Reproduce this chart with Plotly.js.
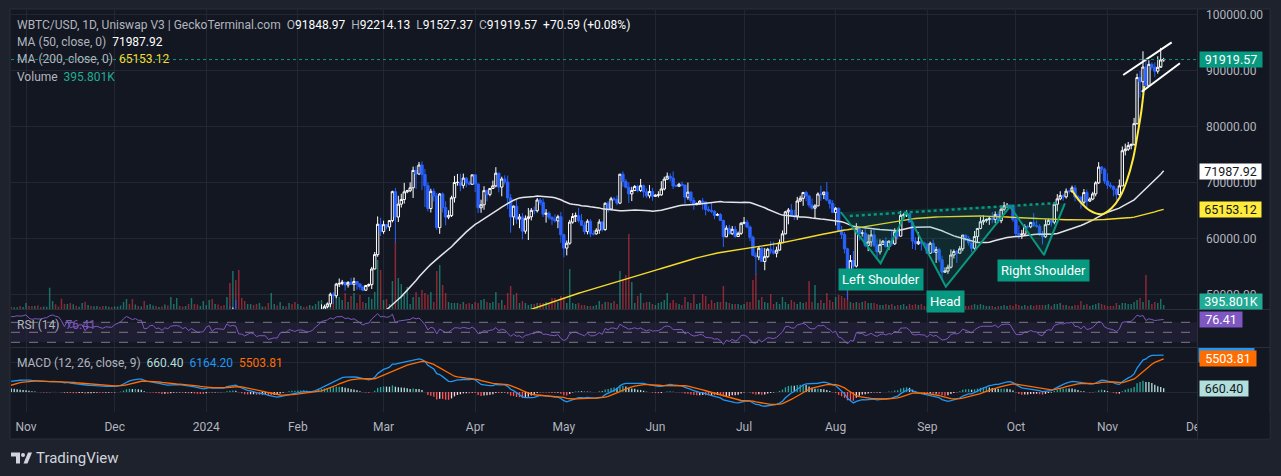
<!DOCTYPE html>
<html><head><meta charset="utf-8">
<script src="https://cdn.plot.ly/plotly-3.0.1.min.js"></script>
<style>html,body{margin:0;padding:0;background:#1e222d;overflow:hidden}#chart{width:1281px;height:476px}</style>
</head><body><div id="chart"></div>
<script>
// ---------------- DATA ----------------
const startDate = '2023-09-15';
const closes = [
26608,26568,26534,26754,27211,27132,26567,26579,26580,26256,26298,26217,26352,27021,26911,26967,
27983,27531,27429,27799,27415,27946,27968,27936,27583,27392,26874,26756,26862,26861,27159,28519,28415,28329,28720,29683,29918,29993,33087,33901,34502,34156,33909,34090,34538,34502,34667,
35438,34938,34732,35082,35050,35038,35444,35655,36693,37313,37138,37054,36502,35537,37880,36154,36596,36585,37386,37476,35813,37432,37289,37721,37796,37479,37254,37832,37858,37713,
38688,39476,39978,41980,44080,43746,43292,44167,43726,43779,41243,41450,42890,43023,41929,42240,41365,42623,42271,43652,43869,43997,43740,43017,43614,42520,43442,42627,42100,42156,42265,
44168,44958,42848,44180,44162,43990,43943,46970,46140,46627,46368,42853,42842,41797,42512,43154,42742,41262,41618,41665,41545,39507,39845,40077,39934,41817,42120,42036,43300,42946,42582,
43076,43185,42992,42584,42659,43085,44319,45302,47148,47772,48293,50004,49734,51826,51939,52161,51663,52123,51780,52285,51839,51305,50732,51572,51733,54522,57085,62504,61198,
62440,62029,63167,68330,63801,66106,66925,68300,68498,69019,72124,71482,73083,71397,69403,65316,68391,67548,61912,67914,65491,63779,64062,67234,69958,69987,69455,70744,69892,69645,71334,
69702,65446,65981,68509,67838,68896,69362,71631,69140,70587,70060,67195,63821,65738,63427,63811,61276,63512,63843,64994,64927,66837,66408,64276,64482,63756,63419,63114,63842,60636,
58254,59123,62889,63892,64031,63162,62334,61187,63049,60793,60793,61448,62901,61553,66267,65231,67051,66940,66278,71448,70136,69122,67929,68526,69265,68518,69394,68296,67578,68364,67491,
67706,67751,68804,70567,71082,70757,69342,69305,69647,69512,67332,68241,66756,66012,66191,66639,66490,65140,64960,64828,64096,64253,63180,60277,61804,60811,61604,60320,60887,62678,
62851,62029,60173,56977,56663,58230,55857,56714,58052,57725,57339,57889,59204,60797,64724,65043,64088,63988,66660,67139,68166,67532,65936,65372,65777,67912,67813,68255,66819,66201,64619,
65357,61415,60680,58116,53991,56034,55027,61710,60880,60945,58719,59354,60609,58737,57560,58894,59478,58483,59493,59012,61175,60381,64094,64178,64333,62880,59504,59027,59388,59119,58969,
57326,59113,57485,57971,56160,53949,54140,54841,57019,57648,57343,58127,60571,60005,59183,58213,60309,61759,62947,63201,63349,63579,63339,64262,63143,65181,65790,65887,65635,63329,
60838,60633,60751,62086,62059,62819,62225,62161,60637,60269,62435,63208,62868,66085,67042,67612,67400,68418,68362,69001,67367,67361,66433,68162,66643,67014,67929,69907,72720,72339,70215,
69482,69289,68742,67811,69360,75639,75905,76545,76778,80474,88701,87955,90585,87250,91066,90558,89845,90542,91848.97,91919.57];

const hlStart = '2024-01-01';
const highs = [
44200,45880,45500,44770,44340,44230,44490,47200,47890,47650,48970,46500,43250,43050,43300,43560,43200,42930,42150,41870,41890,41650,40100,40540,40250,42200,42200,42840,43310,43880,43740,
43260,43480,43380,43110,43500,43400,44500,45580,48200,48150,48550,50300,50370,52040,52820,52570,52200,52350,52950,52980,52370,52000,51540,51680,51950,54900,57550,63900,63650,
63150,62450,63200,68500,69000,67600,67950,69900,68650,70000,72800,72900,73630,73750,72400,70000,68850,68920,68100,68100,68200,66600,65000,67600,71150,71500,71550,71550,70900,70300,71350,
71350,69750,66900,69300,68700,69000,70300,72700,71700,71000,71250,71200,67900,65850,66900,64350,64500,64100,65400,65400,65700,67200,67200,67100,65200,64800,63900,64300,64200,64700,
60800,59600,63300,64500,64600,65450,64350,62950,63400,63450,61400,61800,63400,63100,66400,66650,67400,67400,67650,71500,71950,70600,70000,69200,69500,69550,70600,69600,68900,69500,69000,
67850,68400,70200,71000,71750,71600,71950,69600,69900,70150,69550,69950,68400,67300,66400,66800,67200,66500,65700,66400,65000,64500,64500,63350,62300,62400,62200,62200,61200,62900,
63800,63300,62300,60500,57500,58500,58400,58250,58300,59450,59400,58500,59800,61400,64900,65400,66100,65100,67400,67600,68300,68500,67800,67100,66100,68200,69400,68300,70050,66950,66800,
65600,65500,62200,61100,58300,57000,57750,62700,61800,61500,61800,60700,61500,61800,59800,59800,59700,60200,59600,61400,61800,61400,64900,64500,65000,64500,63200,60200,61100,59900,59400,
59000,59400,59800,58500,58300,56900,54800,55300,58000,58000,57900,58600,60600,60600,60400,59200,61300,61800,63800,64100,63550,64000,64700,64800,64800,65800,66500,66300,66100,65700,
64100,62300,61500,62500,62400,62950,64500,63200,62500,61300,63400,63500,63300,66500,67900,68400,67900,68900,68700,69400,69500,67800,67450,68800,68700,67300,68300,70200,73600,72900,72600,
71600,70000,69400,69000,70500,76400,76900,77200,76900,81500,89400,89900,93400,91700,91800,91400,91400,92500,94000,92214.13];
const lows = [
42200,44150,40750,42630,42630,43430,43590,43200,44800,44350,45650,41800,42450,41720,41720,42080,42200,40680,40300,41450,41500,39450,38550,39500,39550,39830,41400,41630,41800,42700,42300,
41880,42600,42880,42220,42260,42580,42800,44300,45250,46900,47550,47700,48300,49300,51300,51620,50650,51200,51700,50600,50800,50800,50550,50600,51300,50950,54450,56700,60400,
60800,61600,61300,62850,59250,62900,65500,66200,68050,68250,67200,68800,71330,68600,65600,64800,64600,66600,61500,60800,64600,62300,63400,63800,66400,69400,68400,68900,69100,69500,69600,
68250,64500,64550,65100,66600,67500,68800,69100,68200,67500,69600,65250,61000,62300,62600,61800,59800,60800,59700,63200,64300,64600,65900,63800,62800,63300,62400,62800,61800,59200,
56600,56950,58850,62600,62900,62800,62250,60700,60700,60200,60500,60650,60800,61200,61350,64600,65100,66650,65900,66100,69200,68900,66300,66650,68500,68200,68300,67300,67200,67150,66700,
67400,67300,67600,68550,70400,70150,68800,69200,69150,69250,66100,66900,66300,65100,65900,66000,65100,64100,64700,64500,63400,63950,63100,58450,60200,60650,60600,60100,60300,60600,
62500,61800,59500,56800,53500,56100,55800,54300,56500,57200,57100,56600,57800,59200,60700,62500,63900,63250,63300,66500,65800,66600,65500,65100,63500,65750,66700,67000,66600,65300,64500,
62300,61200,59900,57300,49050,53900,54600,54800,59600,60300,58400,57700,58500,58400,56200,57100,58800,58400,57900,58600,58800,59800,60300,63600,63800,62800,58100,57900,58800,57800,58800,
57200,57200,57400,55600,55700,52550,53800,53650,54600,56400,55600,57300,57700,59500,58700,57500,57600,59200,61600,62400,62800,62400,62700,62700,62700,62700,64800,65400,65400,62900,
60200,59900,59900,60500,61700,61800,62100,61900,60400,58900,60100,62400,62100,62500,64800,66800,66700,67100,68000,68100,66600,66700,65300,66000,65500,66500,66800,67500,69700,71500,69700,
68800,68900,67500,66800,67500,69300,74800,75600,75900,76500,80300,85100,86300,86700,87200,90100,88800,89400,90800,91527.37];

const volStart = '2023-10-27';
const volumesK = [
230,170,170,300,200,
600,300,300,300,370,200,260,230,2130,800,470,250,1030,500,500,600,470,330,230,600,730,400,300,270,300,230,300,300,230,200,
250,250,350,700,1000,500,1000,450,300,250,800,400,500,350,300,200,250,450,350,1200,500,1100,300,250,300,500,1100,500,450,300,800,
400,900,1000,500,450,300,400,1200,2600,3800,2900,3900,1100,800,500,500,400,500,600,250,250,600,1600,500,350,700,300,250,600,500,700,
500,300,200,250,400,300,500,800,900,300,500,700,1200,2300,1200,900,1600,700,1300,1600,600,1400,700,600,1200,1000,1700,4900,3900,
900,1000,500,2800,6700,3100,2500,1400,2200,500,1200,1700,1200,1900,1600,1400,1700,700,3800,4400,2400,1600,700,600,600,600,500,700,500,600,500,
700,600,900,1000,700,600,700,1700,600,900,400,1600,2300,1400,1600,600,800,600,400,500,500,600,600,600,700,500,1100,1100,700,1300,
1200,600,4000,600,500,600,400,400,300,300,300,400,800,500,700,700,600,800,500,3800,3000,3400,7500,2700,600,1300,1600,600,700,700,500,
400,600,700,900,1600,600,900,600,500,400,1200,700,600,1500,500,600,1500,1300,500,900,600,700,700,2300,700,600,500,500,500,400,
500,700,700,2900,3500,900,1200,700,600,1500,500,700,500,1200,700,500,900,700,500,700,600,700,2800,700,2400,600,900,600,1600,900,700,
1200,1400,1300,1100,4000,700,600,700,600,700,800,600,600,600,500,400,400,500,400,500,300,400,400,500,300,500,400,500,400,500,300,
300,400,300,300,200,400,300,300,500,500,400,300,400,300,300,400,500,400,500,400,300,300,300,200,300,300,400,300,400,300,
500,400,300,400,300,400,300,400,400,400,400,500,300,500,500,600,400,400,300,300,400,400,800,400,500,300,400,500,600,500,400,
300,300,300,600,400,600,600,500,500,700,900,1100,700,3400,900,500,700,600,1000,395.801];

// x-axis month ticks
const monthTicks = ['2023-11-01','2023-12-01','2024-01-01','2024-02-01','2024-03-01','2024-04-01','2024-05-01','2024-06-01','2024-07-01','2024-08-01','2024-09-01','2024-10-01','2024-11-01','2024-12-01'];
const monthLabels = ['Nov','Dec','2024','Feb','Mar','Apr','May','Jun','Jul','Aug','Sep','Oct','Nov','Dec'];
const priceTicks = [50000,60000,70000,80000,90000,100000];

// legend values (as shown)
const legendOHLC = ['91848.97','92214.13','91527.37','91919.57'];
const legendChange = '+70.59 (+0.08%)';
const ma50Last = 71987.92, ma200Last = 65153.12, volLastK = 395.801, rsiLast = 76.41;
const macdLast = 6164.20, signalLast = 5503.81, histLast = 660.40, lastClose = 91919.57;

// chart drawings (date, price)
const hsDates = ['2024-08-02 17:00','2024-08-16 05:00','2024-08-25 00:00','2024-09-07 07:00','2024-09-29 00:00','2024-10-10 12:00','2024-10-17 14:00'];
const hsPrices = [64696,55536,64643,51357,65643,57018,66250];
const neckDates = ['2024-08-05 19:00','2024-10-15 00:00'];
const neckPrices = [63982,66304];
const hsLabelText = ['Left Shoulder','Head','Right Shoulder'];
const hsLabelDates = ['2024-08-16 07:00','2024-09-07 07:00','2024-10-10 12:00'];
const hsLabelPrices = [52732,48804,54339];
const chanUpDates = ['2024-11-06 07:00','2024-11-22 17:00'];
const chanUpPrices = [89161,95000];
const chanLoDates = ['2024-11-12 14:00','2024-11-25 12:00'];
const chanLoPrices = [86179,91250];
const curveDates = ['2024-10-19 22:00','2024-10-22 17:00','2024-10-26 02:00','2024-10-30 00:00','2024-11-02 10:00','2024-11-05 05:00','2024-11-07 12:00','2024-11-09 17:00','2024-11-11 10:00','2024-11-12 12:00','2024-11-13 10:00'];
const curvePrices = [68625,66536,64929,64286,65411,67375,70232,74339,79339,82911,87196];

// ---------------- DERIVED ----------------
function addDays(s,n){const d=new Date(s+'T00:00:00Z');d.setUTCDate(d.getUTCDate()+n);return d.toISOString().slice(0,10);}
const dates = closes.map((_,i)=>addDays(startDate,i));
const opens = closes.map((c,i)=> i===0 ? c : closes[i-1]);
function sma(src,n){const o=new Array(src.length).fill(null);let s=0;for(let i=0;i<src.length;i++){s+=src[i];if(i>=n)s-=src[i-n];if(i>=n-1)o[i]=s/n;}return o;}
function ema(src,n){const o=new Array(src.length).fill(null);const k=2/(n+1);const f=src.findIndex(v=>v!==null);let p=null;
  for(let i=f;i<src.length;i++){if(i-f<n-1)continue;if(i-f===n-1){let s=0;for(let j=f;j<=i;j++)s+=src[j];p=s/n;}else p=src[i]*k+p*(1-k);o[i]=p;}return o;}
function rsiCalc(src,n){const o=new Array(src.length).fill(null);let ag=0,al=0;
  for(let i=1;i<src.length;i++){const ch=src[i]-src[i-1],g=Math.max(ch,0),l=Math.max(-ch,0);
    if(i<=n){ag+=g;al+=l;if(i===n){ag/=n;al/=n;o[i]=al===0?100:100-100/(1+ag/al);}}
    else{ag=(ag*(n-1)+g)/n;al=(al*(n-1)+l)/n;o[i]=al===0?100:100-100/(1+ag/al);}}return o;}
const ma50 = sma(closes,50), ma200 = sma(closes,200), rsi = rsiCalc(closes,14);
const e12 = ema(closes,12), e26 = ema(closes,26);
const macd = closes.map((_,i)=> (e12[i]!==null && e26[i]!==null) ? e12[i]-e26[i] : null);
const signal = ema(macd,9);
const hist = macd.map((m,i)=> (m!==null && signal[i]!==null) ? m-signal[i] : null);
const histColors = hist.map((h,i)=>{ if(h===null) return 'rgba(0,0,0,0)'; const p = hist[i-1]; const rising = p!==null && p!==undefined ? h>p : true;
  return h>=0 ? (rising?'#26a69a':'#b2dfdb') : (rising?'#ffcdd2':'#ff5252'); });

const hlOff = dates.indexOf(hlStart);
const cDates = dates.slice(hlOff), cOpen = opens.slice(hlOff), cClose = closes.slice(hlOff);
const vOff = dates.indexOf(volStart);
const vDates = dates.slice(vOff, vOff+volumesK.length);
const vColors = vDates.map((_,i)=> closes[vOff+i] >= opens[vOff+i] ? 'rgba(34,171,148,0.6)' : 'rgba(242,54,69,0.55)');

// ---------------- LAYOUT GEOMETRY ----------------
const W=1281,H=476,L=11,R=1197,T=10,B=412;
const px = x => (x-L)/(R-L);
const py = y => (B-y)/(B-T);
const dom = (top,bot)=>[py(bot),py(top)];
const FONT = 'Roboto, "Noto Sans", sans-serif';
const GRID = '#232734';
const GRAY = '#b2b5be';
const DAY = 86400000;

const traces = [
 {type:'bar', x:vDates, y:volumesK, xaxis:'x', yaxis:'y', marker:{color:vColors, line:{width:0}}, width:DAY*0.5, hoverinfo:'skip'},
 {type:'candlestick', x:cDates, open:cOpen, high:highs, low:lows, close:cClose, xaxis:'x', yaxis:'y2',
  increasing:{line:{color:'#ffffff',width:1}, fillcolor:'#131722'}, decreasing:{line:{color:'#2962ff',width:1}, fillcolor:'#2962ff'}, whiskerwidth:0, hoverinfo:'skip'},
 {type:'scatter', mode:'lines', x:dates, y:ma50, xaxis:'x', yaxis:'y2', line:{color:'#e3e5ea', width:1.5}, hoverinfo:'skip'},
 {type:'scatter', mode:'lines', x:dates, y:ma200, xaxis:'x', yaxis:'y2', line:{color:'#f5dc2a', width:1.4}, hoverinfo:'skip'},
 {type:'scatter', mode:'lines', x:hsDates, y:hsPrices, xaxis:'x', yaxis:'y2', fill:'toself', fillcolor:'rgba(8,153,129,0.15)', line:{color:'#089981', width:2}, hoverinfo:'skip'},
 {type:'scatter', mode:'lines', x:neckDates, y:neckPrices, xaxis:'x', yaxis:'y2', line:{color:'#089981', width:2.5, dash:'dot'}, hoverinfo:'skip'},
 {type:'scatter', mode:'lines', x:curveDates, y:curvePrices, xaxis:'x', yaxis:'y2', line:{color:'#ffeb3b', width:2, shape:'spline', smoothing:1}, hoverinfo:'skip'},
 {type:'scatter', mode:'lines', x:chanUpDates, y:chanUpPrices, xaxis:'x', yaxis:'y2', line:{color:'#ffffff', width:2}, hoverinfo:'skip'},
 {type:'scatter', mode:'lines', x:chanLoDates, y:chanLoPrices, xaxis:'x', yaxis:'y2', line:{color:'#ffffff', width:2}, hoverinfo:'skip'},
 {type:'scatter', mode:'lines', x:dates, y:rsi, xaxis:'x', yaxis:'y3', line:{color:'#7e57c2', width:1}, hoverinfo:'skip'},
 {type:'bar', x:dates, y:hist, xaxis:'x', yaxis:'y4', marker:{color:histColors, line:{width:0}}, width:DAY*0.45, hoverinfo:'skip'},
 {type:'scatter', mode:'lines', x:dates, y:macd, xaxis:'x', yaxis:'y4', line:{color:'#2196f3', width:1.3}, hoverinfo:'skip'},
 {type:'scatter', mode:'lines', x:dates, y:signal, xaxis:'x', yaxis:'y4', line:{color:'#ff6d00', width:1.3}, hoverinfo:'skip'}
];

const MACD_PX = 10666/64; // MACD units per pixel in its pane
const shapes = [
 {type:'rect', xref:'paper', yref:'paper', x0:px(10), x1:px(1270), y0:py(439), y1:py(9), fillcolor:'#131722', line:{color:'#2a2e39', width:1}, layer:'below'},
 {type:'rect', xref:'paper', yref:'y3', x0:0, x1:1, y0:30, y1:70, fillcolor:'rgba(126,87,194,0.1)', line:{width:0}, layer:'below'},
 {type:'line', xref:'paper', yref:'y3', x0:0, x1:1, y0:70, y1:70, line:{color:'#787b86', width:1, dash:'dash'}},
 {type:'line', xref:'paper', yref:'y3', x0:0, x1:1, y0:50, y1:50, line:{color:'#787b86', width:1, dash:'dash'}},
 {type:'line', xref:'paper', yref:'y3', x0:0, x1:1, y0:30, y1:30, line:{color:'#787b86', width:1, dash:'dash'}},
 {type:'line', xref:'paper', yref:'y2', x0:0, x1:1, y0:lastClose, y1:lastClose, line:{color:'#089981', width:1, dash:'dot'}},
 {type:'rect', xref:'paper', yref:'paper', x0:px(1197.5), x1:px(1269.5), y0:py(438.5), y1:py(412.5), fillcolor:'#131722', line:{width:0}, layer:'above'},
 {type:'line', xref:'paper', yref:'paper', x0:px(11), x1:px(1270), y0:py(309.5), y1:py(309.5), line:{color:'#2a2e39', width:1}, layer:'above'},
 {type:'line', xref:'paper', yref:'paper', x0:px(11), x1:px(1270), y0:py(347.5), y1:py(347.5), line:{color:'#2a2e39', width:1}, layer:'above'},
 {type:'line', xref:'paper', yref:'paper', x0:px(1197.5), x1:px(1197.5), y0:py(439), y1:py(9), line:{color:'#2a2e39', width:1}, layer:'above'},
 // MACD line value tag (hidden behind signal tag, only its top edge shows)
 {type:'rect', xref:'paper', yref:'y4', x0:px(1198.5), x1:px(1254.5), y0:macdLast-7.5*MACD_PX, y1:macdLast+7.5*MACD_PX, fillcolor:'#2196f3', line:{width:0}, layer:'above'},
 // footer logo
 {type:'path', xref:'paper', yref:'paper', path:`M${px(11)},${py(452.5)} L${px(20)},${py(452.5)} L${px(20)},${py(463.5)} L${px(16)},${py(463.5)} L${px(16)},${py(456.5)} L${px(11)},${py(456.5)} Z`, fillcolor:'#d1d4dc', line:{width:0}},
 {type:'circle', xref:'paper', yref:'paper', x0:px(21), x1:px(25), y0:py(457), y1:py(453), fillcolor:'#d1d4dc', line:{width:0}},
 {type:'path', xref:'paper', yref:'paper', path:`M${px(23.5)},${py(463.5)} L${px(28)},${py(452.5)} L${px(32)},${py(452.5)} L${px(27.5)},${py(463.5)} Z`, fillcolor:'#d1d4dc', line:{width:0}}
];

const NB = '\u00a0';
function leg(x,y,html,size){return {xref:'paper', yref:'paper', x:px(x), y:py(y), xanchor:'left', yanchor:'middle', showarrow:false, text:html, font:{family:FONT, size:size||12, color:GRAY}, borderpad:0};}
const W_ = s => `<span style="color:#ffffff">${s}</span>`;
const annotations = [
 leg(16,25, `WBTC/USD, 1D, Uniswap V3 | GeckoTerminal.com${NB}${NB}O${W_(legendOHLC[0])}${NB}${NB}H${W_(legendOHLC[1])}${NB}${NB}L${W_(legendOHLC[2])}${NB}${NB}C${W_(legendOHLC[3])}${NB}${NB}${W_(legendChange)}`),
 leg(16,42, `MA (50, close, 0)${NB}${NB}${W_(ma50Last.toFixed(2))}`),
 leg(16,59, `MA (200, close, 0)${NB}${NB}<span style="color:#f5dc2a">${ma200Last.toFixed(2)}</span>`),
 leg(16,77, `Volume${NB}${NB}<span style="color:#22ab94">${volLastK.toFixed(3)}K</span>`),
 leg(16,325, `RSI (14)${NB}${NB}<span style="color:#7e57c2">${rsiLast.toFixed(2)}</span>`),
 leg(16,363, `MACD (12, 26, close, 9)${NB}${NB}<span style="color:#b2dfdb">${histLast.toFixed(2)}</span>${NB}${NB}<span style="color:#2196f3">${macdLast.toFixed(2)}</span>${NB}${NB}<span style="color:#ff6d00">${signalLast.toFixed(2)}</span>`),
 {xref:'paper', yref:'paper', x:px(34), y:py(458), xanchor:'left', yanchor:'middle', showarrow:false, text:'TradingView', font:{family:FONT, size:15, color:'#d1d4dc'}}
];
// H&S labels
hsLabelText.forEach((t,i)=>annotations.push({xref:'x', yref:'y2', x:hsLabelDates[i], y:hsLabelPrices[i], xanchor:'center', yanchor:'middle', showarrow:false,
  text:t, bgcolor:'#089981', borderpad:3, font:{family:FONT, size:13, color:'#ffffff'}}));
// right-axis tags
const tagText = [lastClose.toFixed(2), ma50Last.toFixed(2), ma200Last.toFixed(2), volLastK.toFixed(3)+'K', rsiLast.toFixed(2), signalLast.toFixed(2), histLast.toFixed(2)];
const tagVal = [lastClose, ma50Last, ma200Last, volLastK, rsiLast, signalLast, histLast];
const tagAxis = ['y2','y2','y2','y','y3','y4','y4'];
const tagStyle = [
 {bg:'#089981', fg:'#ffffff', w:62, dy:0},
 {bg:'#ffffff', fg:'#131722', w:61, dy:0},
 {bg:'#ffeb3b', fg:'#131722', w:61, dy:0},
 {bg:'#22ab94', fg:'#ffffff', w:62, dy:4},
 {bg:'#7e57c2', fg:'#ffffff', w:42, dy:0},
 {bg:'#ff6d00', fg:'#ffffff', w:56, dy:0},
 {bg:'#b2dfdb', fg:'#131722', w:48, dy:0}
];
tagText.forEach((t,i)=>annotations.push({xref:'paper', yref:tagAxis[i], x:1, y:tagVal[i], xanchor:'left', yanchor:'middle', xshift:1.5, yshift:tagStyle[i].dy,
  showarrow:false, text:t, bgcolor:tagStyle[i].bg, width:tagStyle[i].w, height:15, align:'center', borderpad:0,
  font:{family:FONT, size:12.5, color:tagStyle[i].fg}}));

const layout = {
 width:W, height:H, margin:{l:L, r:W-R, t:T, b:H-B, pad:0},
 paper_bgcolor:'#1e222d', plot_bgcolor:'rgba(0,0,0,0)', showlegend:false, hovermode:false, dragmode:false,
 font:{family:FONT, size:12, color:GRAY},
 boxgap:0.2, boxgroupgap:0,
 xaxis:{type:'date', anchor:'y4', range:['2023-10-26 22:05','2024-12-01 06:45'], tickvals:monthTicks, ticktext:monthLabels,
   showgrid:true, gridcolor:GRID, gridwidth:1, ticks:'', zeroline:false, showline:false, rangeslider:{visible:false},
   tickfont:{family:FONT, size:12, color:GRAY}, ticklabelstandoff:6, fixedrange:true},
 yaxis:{domain:dom(T,309), range:[0,29900], visible:false, showgrid:false, fixedrange:true},
 yaxis2:{domain:dom(T,309), overlaying:'y', side:'right', anchor:'x', range:[47375,100768], tickvals:priceTicks, tickformat:'.2f',
   showgrid:true, gridcolor:GRID, ticks:'', zeroline:false, showline:false, tickfont:{family:FONT, size:12, color:GRAY}, ticklabelstandoff:8, fixedrange:true},
 yaxis3:{domain:dom(310,347), anchor:'x', range:[20.6,94.6], showgrid:false, showticklabels:false, zeroline:false, ticks:'', fixedrange:true},
 yaxis4:{domain:dom(348,B), anchor:'x', range:[-3333,7333], tickvals:[0,5000], showticklabels:false, showgrid:true, gridcolor:GRID, zeroline:false, ticks:'', fixedrange:true},
 shapes:shapes, annotations:annotations
};
Plotly.newPlot('chart', traces, layout, {staticPlot:true, displayModeBar:false});
</script></body></html>
